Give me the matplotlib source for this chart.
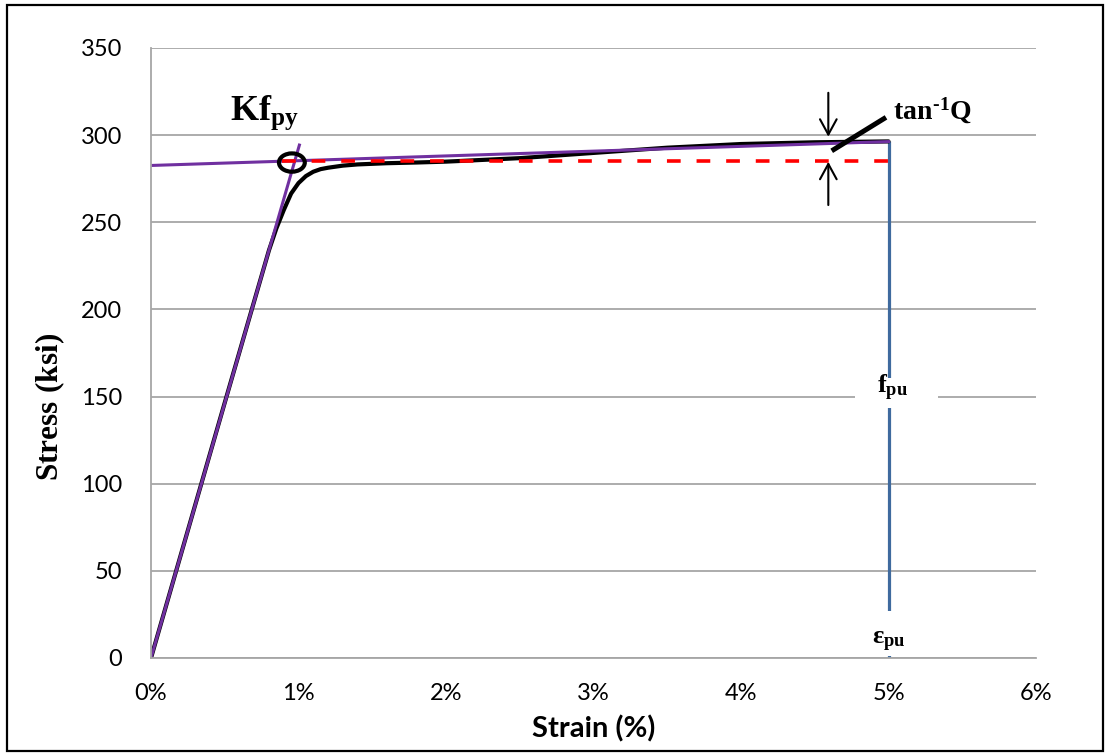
import matplotlib
matplotlib.use("Agg")
import matplotlib.pyplot as plt
from matplotlib.patches import Ellipse, Rectangle
from matplotlib.ticker import FuncFormatter
from matplotlib.font_manager import FontProperties

# Measured stress-strain curve of the prestressing strand
strain_pct = [0, 0.5, 0.8, 0.85, 0.9, 0.95, 1.0, 1.05, 1.1, 1.15, 1.2, 1.3,
              1.4, 1.6, 1.8, 2.0, 2.5, 3.0, 3.5, 4.0, 4.5, 5.0]
stress_ksi = [0, 146.5, 234, 246.5, 257, 266.5, 272.5, 276.5, 279, 280.5,
              281.3, 282.5, 283.2, 283.9, 284.3, 284.8, 286.8, 289.8, 292.8,
              294.9, 295.9, 296.4]

# Bilinear idealisation (elastic branch and hardening branch)
elastic_strain = [0.0, 1.006]
elastic_stress = [0.0, 294.3]
hardening_strain = [0.0, 5.0]
hardening_stress = [282.6, 296.3]

# Yield plateau reference (K f_py)
plateau_strain = [0.89, 5.0]
plateau_stress = [285.0, 285.0]

# Ultimate point (eps_pu, f_pu)
eps_pu = 5.0
f_pu = 296.4

x_ticks = [0, 1, 2, 3, 4, 5, 6]
y_ticks = [0, 50, 100, 150, 200, 250, 300, 350]

plt.rcParams["mathtext.fontset"] = "custom"
plt.rcParams["mathtext.rm"] = "Liberation Serif:bold"
plt.rcParams["mathtext.it"] = "Liberation Serif:bold"
plt.rcParams["mathtext.bf"] = "Liberation Serif:bold"

fig = plt.figure(figsize=(11.05, 7.54), dpi=100)
fig.patch.set_facecolor("white")
ax = fig.add_axes([151 / 1105, 1 - 658 / 754, (1036 - 151) / 1105, (658 - 48) / 754])

grid_color = "#a6a6a6"
ax.set_xlim(x_ticks[0], x_ticks[-1])
ax.set_ylim(y_ticks[0], y_ticks[-1])
ax.set_xticks(x_ticks)
ax.set_yticks(y_ticks)
ax.xaxis.set_major_formatter(FuncFormatter(lambda v, p: f"{v:.0f}%"))
ax.yaxis.grid(True, color=grid_color, lw=1.3, zorder=0)
ax.set_axisbelow(True)
for side in ("top", "right"):
    ax.spines[side].set_visible(False)
for side in ("left", "bottom"):
    ax.spines[side].set_color(grid_color)
    ax.spines[side].set_linewidth(1.3)
    ax.spines[side].set_zorder(6)
ax.tick_params(axis="both", length=0, labelsize=17, colors="black")
ax.tick_params(axis="y", pad=21)
ax.tick_params(axis="x", pad=18)
for lbl in ax.get_xticklabels() + ax.get_yticklabels():
    lbl.set_fontfamily("Lato")

ax.set_xlabel("Strain (%)",
              fontproperties=FontProperties(family="Lato", weight="bold", size=21),
              labelpad=8)
# Vertical axis title in the bold serif face used for the annotations
ax.text(-0.114, 0.411, r"$Stress\ (ksi)$", transform=ax.transAxes, rotation=90,
        ha="center", va="center", fontsize=22.5)

# Vertical line at ultimate strain
ax.plot([eps_pu, eps_pu], [0, f_pu], color="#3F6A9E", lw=2.3, zorder=2,
        solid_capstyle="butt")

# Actual curve
ax.plot(strain_pct, stress_ksi, color="black", lw=3.0, zorder=3,
        solid_joinstyle="round", solid_capstyle="round")

# Idealised branches
ax.plot(elastic_strain, elastic_stress, color="#7030A0", lw=2.2, zorder=4)
ax.plot(hardening_strain, hardening_stress, color="#7030A0", lw=2.2, zorder=4)

# Plateau reference
ax.plot(plateau_strain, plateau_stress, color="#FF0000", lw=2.6, zorder=5,
        dashes=(3.8, 4.4))

# Ellipse marking the intersection of the two branches
e_slope = elastic_stress[1] / elastic_strain[1]
h_slope = (hardening_stress[1] - hardening_stress[0]) / (hardening_strain[1] - hardening_strain[0])
x_int = hardening_stress[0] / (e_slope - h_slope)
y_int = e_slope * x_int
ax.add_patch(Ellipse((x_int - 0.02, y_int - 1.0), 0.175, 10.5, fill=False,
                     ec="black", lw=3.0, zorder=6))

ax.text(0.77, 313, r"$Kf_{py}$", fontsize=26, ha="center", va="center", zorder=7)

# Angle indicator near the ultimate point
arrow_x = 4.592
head = "->,head_length=1.1,head_width=0.6"
ax.annotate("", xy=(arrow_x, 299.1), xytext=(arrow_x, 324.3),
            arrowprops=dict(arrowstyle=head, color="black", lw=1.5,
                            shrinkA=0, shrinkB=0), zorder=7)
ax.annotate("", xy=(arrow_x, 284.7), xytext=(arrow_x, 259.9),
            arrowprops=dict(arrowstyle=head, color="black", lw=1.5,
                            shrinkA=0, shrinkB=0), zorder=7)
ax.plot([4.615, 4.983], [291.0, 310.2], color="black", lw=3.6, zorder=7,
        solid_capstyle="butt")
ax.text(5.03, 314, "$tan^{\u20101}Q$", fontsize=20, ha="left", va="center", zorder=7)

# Point labels on the ultimate line
ax.text(eps_pu + 0.03, 155, r"$f_{pu}$", fontsize=19, ha="center", va="center", zorder=5)
ax.add_patch(Rectangle((4.77, 143.5), 0.565, 17.3, fc="white", ec="none", zorder=4.5))
ax.add_patch(Rectangle((4.82, 1.2), 0.36, 25.6, fc="white", ec="none", zorder=4.5))
ax.text(eps_pu, 9.5, r"$ε_{pu}$", fontsize=19, ha="center", va="center", zorder=5)

# Outer frame
fig.add_artist(Rectangle((7 / 1105, 1 - 751 / 754), 1096 / 1105, 746 / 754,
                         transform=fig.transFigure, fill=False, ec="black", lw=1.6))

fig.savefig("out.png", dpi=100, facecolor="white")
